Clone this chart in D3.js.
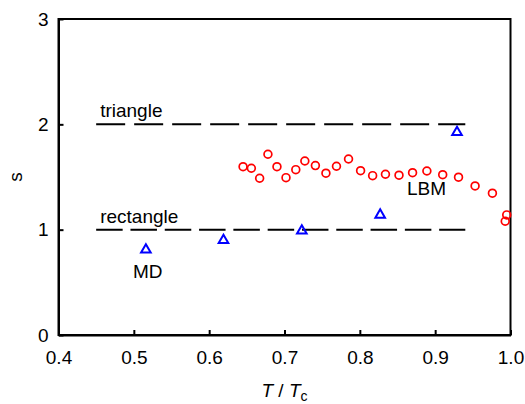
<!DOCTYPE html>
<html>
<head>
<meta charset="utf-8">
<script src="https://cdn.jsdelivr.net/npm/d3@7"></script>
<style>
  body { margin: 0; background: #fff; }
  svg text { font-family: Arial, "Liberation Sans", sans-serif; }
</style>
</head>
<body>
<script>
// MD results (blue triangles)
const mdT = [0.516, 0.619, 0.723, 0.827, 0.929];
const mdS = [0.81, 0.90, 0.99, 1.14, 1.925];

// LBM results (red circles)
const lbmT = [0.645, 0.656, 0.667, 0.678, 0.690, 0.702, 0.715, 0.727, 0.741, 0.755, 0.769, 0.785,
              0.801, 0.817, 0.834, 0.852, 0.870, 0.889, 0.910, 0.931, 0.953, 0.976, 0.995, 0.993];
const lbmS = [1.598, 1.583, 1.488, 1.716, 1.598, 1.494, 1.570, 1.652, 1.608, 1.536, 1.602, 1.671,
              1.560, 1.513, 1.526, 1.517, 1.541, 1.557, 1.522, 1.498, 1.415, 1.346, 1.140, 1.080];

// reference lines
const refNames = ["triangle", "rectangle"];
const refS = [2, 1];
const refT = [0.45, 0.94];

const xTicks = [0.4, 0.5, 0.6, 0.7, 0.8, 0.9, 1.0];
const yTicks = [0, 1, 2, 3];

const W = 525, H = 404;
const plot = { left: 58.5, right: 510.5, top: 19, bottom: 335 };

const svg = d3.select("body").append("svg")
    .attr("width", W)
    .attr("height", H);

const x = d3.scaleLinear().domain([0.4, 1.0]).range([plot.left, plot.right]);
const y = d3.scaleLinear().domain([0, 3]).range([plot.bottom, plot.top]);

// frame
svg.append("rect")
    .attr("x", plot.left).attr("y", plot.top)
    .attr("width", plot.right - plot.left).attr("height", plot.bottom - plot.top)
    .attr("fill", "none").attr("stroke", "#000").attr("stroke-width", 2);

const xAxis = d3.axisBottom(x).tickValues(xTicks).tickFormat(d3.format(".1f"))
    .tickSizeInner(-5).tickSizeOuter(0).tickPadding(16);
const yAxis = d3.axisLeft(y).tickValues(yTicks).tickFormat(d3.format("d"))
    .tickSizeInner(-5).tickSizeOuter(0).tickPadding(10);

const gx = svg.append("g").attr("transform", `translate(0,${plot.bottom})`).call(xAxis);
const gy = svg.append("g").attr("transform", `translate(${plot.left},0)`).call(yAxis);

[gx, gy].forEach(g => {
    g.select(".domain").attr("stroke", "#000").attr("stroke-width", 2);
    g.selectAll(".tick line").attr("stroke", "#000").attr("stroke-width", 2);
    g.selectAll(".tick text").attr("fill", "#000")
        .style("font-size", "19px")
        .style("font-family", "Arial, 'Liberation Sans', sans-serif");
});

// dashed reference lines
const dashes = ["29,9", "26.5,7.8"];
refS.forEach((s, i) => {
    svg.append("line")
        .attr("x1", x(refT[0])).attr("x2", x(refT[1]))
        .attr("y1", y(s)).attr("y2", y(s))
        .attr("stroke", "#000").attr("stroke-width", 2)
        .attr("stroke-dasharray", dashes[i]);
    svg.append("text")
        .attr("x", x(refT[0]) + 4).attr("y", y(s) - 7)
        .style("font-size", "19px")
        .text(refNames[i]);
});

// LBM circles
svg.append("g").selectAll("circle")
    .data(lbmT.map((t, i) => [t, lbmS[i]]))
    .join("circle")
    .attr("cx", d => x(d[0]))
    .attr("cy", d => y(d[1]))
    .attr("r", 3.9)
    .attr("fill", "none")
    .attr("stroke", "#ff0000")
    .attr("stroke-width", 1.7);

// MD triangles
const tri = d3.symbol().type(d3.symbolTriangle).size(40);
svg.append("g").selectAll("path")
    .data(mdT.map((t, i) => [t, mdS[i]]))
    .join("path")
    .attr("d", tri)
    .attr("transform", d => `translate(${x(d[0])},${y(d[1])})`)
    .attr("fill", "none")
    .attr("stroke", "#0000ff")
    .attr("stroke-width", 2);

// series labels
svg.append("text").attr("x", 133).attr("y", 278).style("font-size", "19px").text("MD");
svg.append("text").attr("x", 407).attr("y", 195).style("font-size", "19px").text("LBM");

// axis titles
svg.append("text")
    .attr("transform", "translate(22,177) rotate(-90)")
    .attr("text-anchor", "middle")
    .style("font-size", "19px")
    .text("s");

const xl = svg.append("text")
    .attr("x", (plot.left + plot.right) / 2)
    .attr("y", 397)
    .attr("text-anchor", "middle")
    .style("font-size", "19px");
xl.append("tspan").style("font-style", "italic").text("T");
xl.append("tspan").text(" / ");
xl.append("tspan").style("font-style", "italic").text("T");
xl.append("tspan").attr("dy", 4).style("font-size", "14px").text("c");
</script>
</body>
</html>
